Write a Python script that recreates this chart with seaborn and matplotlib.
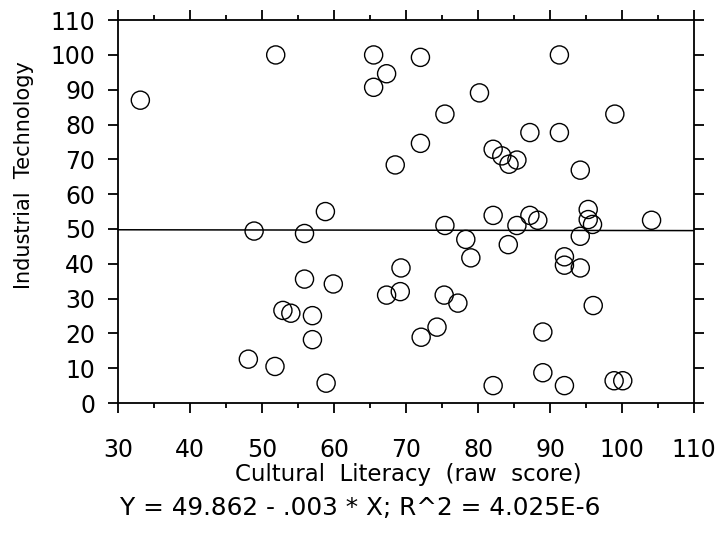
import numpy as np
import matplotlib
matplotlib.use("Agg")
import matplotlib.pyplot as plt
import seaborn as sns
import pandas as pd

sns.set_style("ticks")
plt.rcParams['font.family'] = ['DejaVu Sans']
plt.rcParams['text.color'] = 'black'
plt.rcParams['xtick.color'] = 'black'
plt.rcParams['ytick.color'] = 'black'

# --- data ---
cultural_literacy = [
    33.1, 51.9, 65.5, 67.3, 65.5, 72.0, 72.0, 68.5, 58.8, 48.9, 55.9,
    91.3, 80.2, 75.4, 99.0, 87.2, 91.3, 82.1, 83.3, 85.4, 84.3, 94.2,
    82.1, 87.2, 88.3, 95.3, 95.3, 95.9, 104.1, 75.4, 85.4, 94.2, 78.3,
    79.0, 84.2, 92.0, 92.0, 94.2, 69.3, 69.2, 67.3, 75.3, 77.2, 96.0,
    74.3, 72.1, 89.0, 89.0, 82.1, 92.0, 98.9, 100.1, 55.9, 59.9, 52.9,
    54.0, 57.0, 57.0, 48.1, 51.8, 58.9,
]
industrial_tech = [
    87.0, 100.0, 100.0, 94.6, 90.7, 99.3, 74.6, 68.4, 55.0, 49.4, 48.7,
    100.0, 89.1, 83.0, 83.0, 77.7, 77.7, 72.9, 71.0, 69.8, 68.6, 66.9,
    53.9, 53.9, 52.5, 55.6, 52.7, 51.3, 52.5, 51.0, 51.0, 47.9, 47.0,
    41.7, 45.5, 42.0, 39.6, 38.8, 38.8, 32.0, 31.0, 31.0, 28.7, 28.0,
    21.8, 18.9, 20.4, 8.7, 5.0, 5.0, 6.4, 6.4, 35.6, 34.2, 26.6,
    25.8, 25.1, 18.2, 12.6, 10.5, 5.7,
]
intercept = 49.862
slope = -0.003
x_ticks = list(range(30, 111, 10))
y_ticks = list(range(0, 111, 10))

df = pd.DataFrame({"x": cultural_literacy, "y": industrial_tech})

fig = plt.figure(figsize=(7.25, 5.34), dpi=100)
ax = fig.add_axes([0.1628, 0.2453, 0.7945, 0.717])

# regression line from the reported fit
line_x = np.array([30, 110])
ax.plot(line_x, intercept + slope * line_x, color="black", lw=1.1, zorder=1)

sns.scatterplot(data=df, x="x", y="y", s=170, facecolor="none",
                edgecolor="black", linewidth=1.0, ax=ax, zorder=2)

ax.set_xlim(30, 110)
ax.set_ylim(0, 110)
ax.set_xticks(x_ticks)
ax.set_xticks(list(range(35, 110, 10)), minor=True)
ax.set_yticks(y_ticks)

for sp in ax.spines.values():
    sp.set_linewidth(1.3)
    sp.set_color("black")

ax.tick_params(axis="x", which="both", direction="out", top=True, bottom=True,
               width=1.3, labelsize=17, pad=18)
ax.tick_params(axis="x", which="major", length=7.5)
ax.tick_params(axis="x", which="minor", length=3.5)
ax.tick_params(axis="y", which="major", direction="out", left=True, right=True,
               length=7.5, width=1.3, labelsize=17, pad=9)

ax.set_xlabel("")
ax.set_ylabel("")

fig.text(408 / 725, 1 - 475 / 534, "Cultural  Literacy  (raw  score)",
         ha="center", va="center", fontsize=16.5)
fig.text(360 / 725, 1 - 508 / 534, "Y = 49.862 - .003 * X; R^2 = 4.025E-6",
         ha="center", va="center", fontsize=17.8)
fig.text(24 / 725, 1 - 175 / 534, "Industrial  Technology",
         ha="center", va="center", rotation=90, fontsize=15)

fig.savefig("out.png", dpi=100)
